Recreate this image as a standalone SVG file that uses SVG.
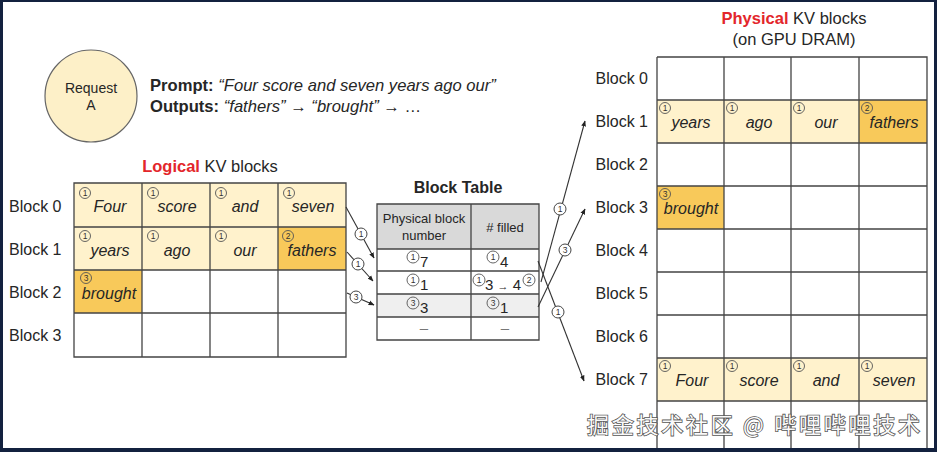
<svg xmlns="http://www.w3.org/2000/svg" width="937" height="452" viewBox="0 0 937 452">
<style>
text{font-family:"Liberation Sans",Arial,sans-serif;fill:#262626}
.lbl{font-size:16px}
.ttl{font-size:16.5px}
.w{font-size:16px;font-style:italic;text-anchor:middle}
.cn circle{fill:none;stroke:#555;stroke-width:0.9}
.cn text{font-size:8.5px;text-anchor:middle;fill:#333}
.lc circle{fill:#fff;stroke:#444;stroke-width:1}
.lc text{font-size:8.5px;text-anchor:middle;fill:#333}
.grid{fill:none;stroke:#444;stroke-width:1.3}
.lt{fill:#fff2cc}
.dk{fill:#f8c95a}
.conn line{stroke:#333;stroke-width:1.1;marker-end:url(#ah)}
.tb{font-size:15px}
.red{fill:#e3262b;font-weight:bold}
</style>
<defs>
<marker id="ah" viewBox="0 0 10 10" refX="9" refY="5" markerWidth="6" markerHeight="6" markerUnits="userSpaceOnUse" orient="auto">
<path d="M0,1 L10,5 L0,9 z" fill="#222"/>
</marker>
</defs>
<rect width="937" height="452" fill="#fff"/>

<g id="request">
<circle cx="91" cy="96" r="46" fill="#fdf0c8" stroke="#666" stroke-width="1.2"/>
<text x="91" y="93" font-size="14" text-anchor="middle">Request</text>
<text x="91" y="110" font-size="14" text-anchor="middle">A</text>
</g>

<g id="prompt">
<text x="150" y="91" font-size="16.6"><tspan font-weight="bold">Prompt:</tspan> <tspan font-style="italic">“Four score and seven years ago our”</tspan></text>
<text x="150" y="112" font-size="16.6"><tspan font-weight="bold">Outputs:</tspan> <tspan font-style="italic">“fathers”</tspan> → <tspan font-style="italic">“brought”</tspan> → …</text>
</g>

<g id="logical">
<text x="210" y="172" class="ttl" text-anchor="middle"><tspan class="red">Logical</tspan> KV blocks</text>
<rect class="lt" x="74" y="183" width="272" height="44"/>
<rect class="lt" x="74" y="227" width="204" height="43"/>
<rect class="dk" x="278" y="227" width="68" height="43"/>
<rect class="dk" x="74" y="270" width="68" height="43"/>
<path class="grid" d="M74,183H346V357H74Z M74,227H346 M74,270H346 M74,313H346 M142,183V357 M210,183V357 M278,183V357"/>
<text x="9" y="212" class="lbl">Block 0</text>
<text x="9" y="255" class="lbl">Block 1</text>
<text x="9" y="298" class="lbl">Block 2</text>
<text x="9" y="341" class="lbl">Block 3</text>
<g id="l-b0">
<g class="cn"><circle cx="85" cy="193" r="5.5"/><text x="85" y="196">1</text></g>
<g class="cn"><circle cx="153" cy="193" r="5.5"/><text x="153" y="196">1</text></g>
<g class="cn"><circle cx="221" cy="193" r="5.5"/><text x="221" y="196">1</text></g>
<g class="cn"><circle cx="289" cy="193" r="5.5"/><text x="289" y="196">1</text></g>
<text class="w" x="110" y="212">Four</text>
<text class="w" x="177" y="212">score</text>
<text class="w" x="245" y="212">and</text>
<text class="w" x="313" y="212">seven</text>
</g>
<g id="l-b1">
<g class="cn"><circle cx="85" cy="236" r="5.5"/><text x="85" y="239">1</text></g>
<g class="cn"><circle cx="153" cy="236" r="5.5"/><text x="153" y="239">1</text></g>
<g class="cn"><circle cx="221" cy="236" r="5.5"/><text x="221" y="239">1</text></g>
<g class="cn"><circle cx="288" cy="236" r="5.5"/><text x="288" y="239">2</text></g>
<text class="w" x="110" y="256">years</text>
<text class="w" x="177" y="256">ago</text>
<text class="w" x="245" y="256">our</text>
<text class="w" x="312" y="256">fathers</text>
</g>
<g id="l-b2">
<g class="cn"><circle cx="86" cy="278" r="5.5"/><text x="86" y="281">3</text></g>
<text class="w" x="109" y="299">brought</text>
</g>
</g>

<g id="blocktable">
<text x="458" y="193" font-size="16" font-weight="bold" text-anchor="middle">Block Table</text>
<rect x="377" y="204" width="162" height="45" fill="#d9d9d9"/>
<rect x="377" y="294" width="162" height="23" fill="#efefef"/>
<path class="grid" d="M377,204H539V340H377Z M377,249H539 M377,271H539 M377,294H539 M377,317H539 M471,204V340"/>
<text x="424" y="223" font-size="13" text-anchor="middle">Physical block</text>
<text x="424" y="240" font-size="13" text-anchor="middle">number</text>
<text x="505" y="232" font-size="13" text-anchor="middle"># filled</text>
<g class="cn"><circle cx="413" cy="257" r="6"/><text x="413" y="260">1</text></g>
<text x="420" y="267" class="tb">7</text>
<g class="cn"><circle cx="493" cy="257" r="6"/><text x="493" y="260">1</text></g>
<text x="500" y="267" class="tb">4</text>
<g class="cn"><circle cx="413" cy="280" r="6"/><text x="413" y="283">1</text></g>
<text x="420" y="290" class="tb">1</text>
<g class="cn"><circle cx="479" cy="280" r="6"/><text x="479" y="283">1</text></g>
<text x="485" y="290" class="tb">3 <tspan font-size="11">→</tspan> 4</text>
<g class="cn"><circle cx="529" cy="280" r="6"/><text x="529" y="283">2</text></g>
<g class="cn"><circle cx="413" cy="303" r="6"/><text x="413" y="306">3</text></g>
<text x="420" y="313" class="tb">3</text>
<g class="cn"><circle cx="493" cy="303" r="6"/><text x="493" y="306">3</text></g>
<text x="500" y="313" class="tb">1</text>
<text x="424" y="333" class="tb" text-anchor="middle" style="fill:#777">–</text>
<text x="505" y="333" class="tb" text-anchor="middle" style="fill:#777">–</text>
</g>

<g id="physical">
<text x="794" y="24" class="ttl" text-anchor="middle"><tspan class="red">Physical</tspan> KV blocks</text>
<text x="794" y="45" class="ttl" text-anchor="middle">(on GPU DRAM)</text>
<rect class="lt" x="657" y="100" width="202" height="43"/>
<rect class="dk" x="859" y="100" width="68" height="43"/>
<rect class="dk" x="657" y="186" width="67" height="43"/>
<rect class="lt" x="657" y="358" width="270" height="43"/>
<path class="grid" d="M657,57H927V452 M657,57V452 M657,100H927 M657,143H927 M657,186H927 M657,229H927 M657,272H927 M657,315H927 M657,358H927 M657,401H927 M724,57V452 M791,57V452 M859,57V452"/>
<text x="648" y="84" class="lbl" text-anchor="end">Block 0</text>
<text x="648" y="127" class="lbl" text-anchor="end">Block 1</text>
<text x="648" y="170" class="lbl" text-anchor="end">Block 2</text>
<text x="648" y="213" class="lbl" text-anchor="end">Block 3</text>
<text x="648" y="256" class="lbl" text-anchor="end">Block 4</text>
<text x="648" y="299" class="lbl" text-anchor="end">Block 5</text>
<text x="648" y="342" class="lbl" text-anchor="end">Block 6</text>
<text x="648" y="385" class="lbl" text-anchor="end">Block 7</text>
<g id="p-b1">
<g class="cn"><circle cx="665" cy="108" r="5.5"/><text x="665" y="111">1</text></g>
<g class="cn"><circle cx="732" cy="108" r="5.5"/><text x="732" y="111">1</text></g>
<g class="cn"><circle cx="799" cy="108" r="5.5"/><text x="799" y="111">1</text></g>
<g class="cn"><circle cx="867" cy="108" r="5.5"/><text x="867" y="111">2</text></g>
<text class="w" x="691" y="128">years</text>
<text class="w" x="759" y="128">ago</text>
<text class="w" x="826" y="128">our</text>
<text class="w" x="894" y="128">fathers</text>
</g>
<g id="p-b3">
<g class="cn"><circle cx="665" cy="194" r="5.5"/><text x="665" y="197">3</text></g>
<text class="w" x="691" y="214">brought</text>
</g>
<g id="p-b7">
<g class="cn"><circle cx="665" cy="366" r="5.5"/><text x="665" y="369">1</text></g>
<g class="cn"><circle cx="732" cy="366" r="5.5"/><text x="732" y="369">1</text></g>
<g class="cn"><circle cx="799" cy="366" r="5.5"/><text x="799" y="369">1</text></g>
<g class="cn"><circle cx="867" cy="366" r="5.5"/><text x="867" y="369">1</text></g>
<text class="w" x="692" y="386">Four</text>
<text class="w" x="759" y="386">score</text>
<text class="w" x="826" y="386">and</text>
<text class="w" x="894" y="386">seven</text>
</g>
</g>

<g id="connectors" class="conn">
<line x1="346" y1="207" x2="374" y2="258"/>
<line x1="347" y1="252" x2="373" y2="281"/>
<line x1="347" y1="293" x2="374" y2="305"/>
<line x1="541" y1="282" x2="585" y2="121"/>
<line x1="538" y1="307" x2="585" y2="209"/>
<line x1="538" y1="261" x2="584" y2="381"/>
<g class="lc"><circle cx="361" cy="234" r="6"/><text x="361" y="237">1</text></g>
<g class="lc"><circle cx="358" cy="264" r="6"/><text x="358" y="267">1</text></g>
<g class="lc"><circle cx="356" cy="297" r="6"/><text x="356" y="300">3</text></g>
<g class="lc"><circle cx="560" cy="209" r="6"/><text x="560" y="212">1</text></g>
<g class="lc"><circle cx="565" cy="250" r="6"/><text x="565" y="253">3</text></g>
<g class="lc"><circle cx="558" cy="312" r="6"/><text x="558" y="315">1</text></g>
</g>

<text x="587" y="433" font-size="22" textLength="333" style="font-family:'Noto Sans CJK SC','Liberation Sans',sans-serif;fill:#fafafa;stroke:#555;stroke-width:1.6;paint-order:stroke">掘金技术社区 @ 哔哩哔哩技术</text>

<path d="M0,0H937V452H0Z M3,2V448H934V2Z" fill="#13213f" fill-rule="evenodd"/>
</svg>
